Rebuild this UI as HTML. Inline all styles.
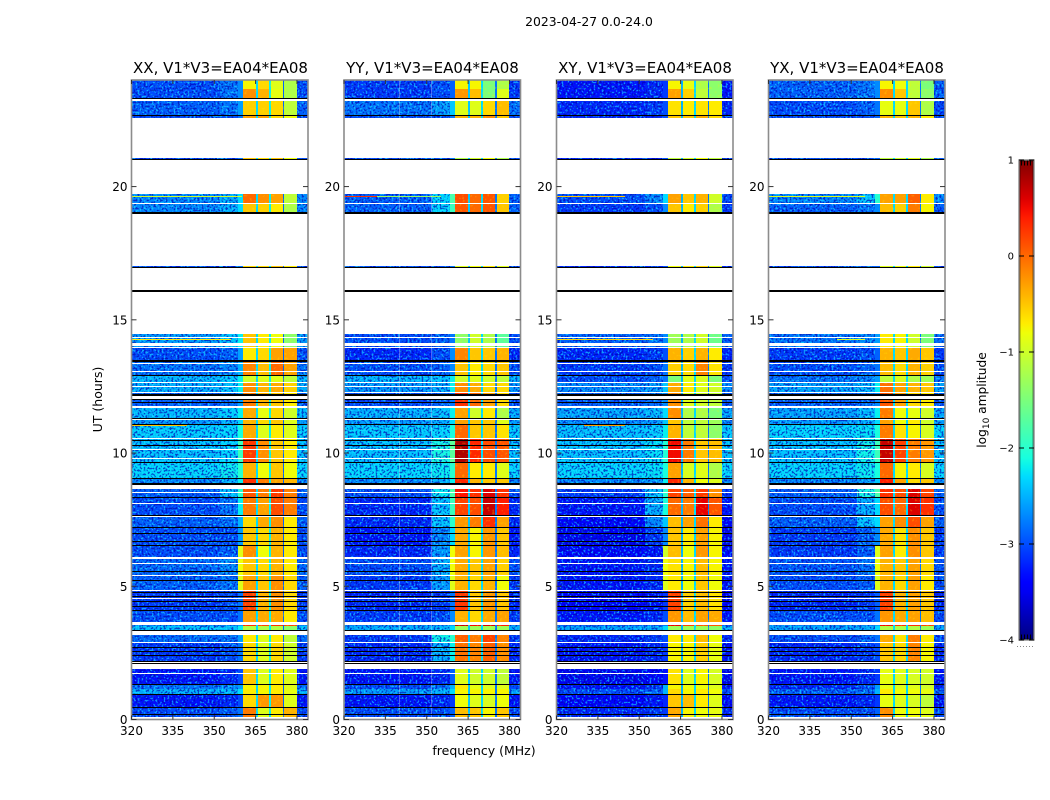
<!DOCTYPE html>
<html>
<head>
<meta charset="utf-8">
<title>2023-04-27 0.0-24.0</title>
<style>
html,body{margin:0;padding:0;background:#fff;}
svg{display:block;}
text{font-family:"DejaVu Sans","Liberation Sans",sans-serif;fill:#000;}
</style>
</head>
<body>
<svg id="chart" xmlns="http://www.w3.org/2000/svg" width="1050" height="800" viewBox="0 0 1050 800">
  <defs>
    <filter id="speck-light" x="0" y="0" width="1" height="1" color-interpolation-filters="sRGB">
      <feTurbulence type="fractalNoise" baseFrequency=".5" numOctaves="1" seed="3"/>
      <feColorMatrix values="0 0 0 0 0.1  0 0 0 0 0.9  0 0 0 0 1  8 0 0 0 -4.2"/>
    </filter>
    <filter id="speck-dark" x="0" y="0" width="1" height="1" color-interpolation-filters="sRGB">
      <feTurbulence type="fractalNoise" baseFrequency=".5" numOctaves="1" seed="11"/>
      <feColorMatrix values="0 0 0 0 0  0 0 0 0 0  0 0 0 0 0.7  0 8 0 0 -4.0"/>
    </filter>
    <filter id="speck-warm" x="0" y="0" width="1" height="1" color-interpolation-filters="sRGB">
      <feTurbulence type="fractalNoise" baseFrequency=".4" numOctaves="1" seed="7"/>
      <feColorMatrix values="0 0 0 0 1  0 0 0 0 0.95  0 0 0 0 0  10 0 0 0 -6"/>
    </filter>
    <linearGradient id="jet-gradient" x1="0" y1="1" x2="0" y2="0"></linearGradient>
  </defs>
  <rect width="1050" height="800" fill="#fff"/>
  <text x="589" y="26" font-size="12.4" text-anchor="middle">2023-04-27 0.0-24.0</text>
  <text x="220.5" y="73" font-size="15" text-anchor="middle">XX, V1*V3=EA04*EA08</text>
  <text x="432.5" y="73" font-size="15" text-anchor="middle">YY, V1*V3=EA04*EA08</text>
  <text x="645" y="73" font-size="15" text-anchor="middle">XY, V1*V3=EA04*EA08</text>
  <text x="857" y="73" font-size="15" text-anchor="middle">YX, V1*V3=EA04*EA08</text>
  <text x="484" y="755" font-size="12.5" text-anchor="middle">frequency (MHz)</text>
  <text transform="translate(102,399.5) rotate(-90)" font-size="12.5" text-anchor="middle">UT (hours)</text>
  <text transform="translate(986,400) rotate(-90)" font-size="12.2" text-anchor="middle">log<tspan font-size="9" dy="3">10</tspan><tspan dy="-3"> amplitude</tspan></text>
  <g id="panels"></g>
  <g id="colorbar"></g>
</svg>
<script>
// ---- chart data (log10 amplitude, UT hours, MHz) ----
const panelNames = ['xx', 'yy', 'xy', 'yx'];
const xTicks = [320, 335, 350, 365, 380];
const yTicks = [0, 5, 10, 15, 20];
const cbTicks = [-4, -3, -2, -1, 0, 1];
const cbTickLabels = ['\u22124', '\u22123', '\u22122', '\u22121', '0', '1'];
// frequency bins: background, approach, shoulder, block, gap, block, gap, block, gap, block, background
const freqEdges = [320, 352, 358.6, 360.4, 365.1, 365.7, 369.8, 370.5, 374.9, 375.4, 379.9, 384];
const rowStart = [23.68,23.27,22.68,22.57,21.03,19.37,19.04,16.96,13.99,13.45,12.89,12.676,12.238,11.738,11.325,11.088,10.55,9.674,9.062,8.861,8.349,7.661,7.21,6.548,6.085,5.422,4.859,4.108,3.646,3.495,3.333,2.908,2.17,1.319,1.131,0.956,0.481,0.105];
const rowEnd = [24,23.68,23.22,22.68,21.07,19.72,19.37,17.02,14.465,13.99,13.45,12.89,12.676,12.238,11.738,11.325,11.088,10.55,9.674,9.062,8.649,8.349,7.661,7.21,6.548,6.085,5.422,4.859,4.108,3.56,3.495,3.17,2.908,1.895,1.319,1.131,0.956,0.481];
// each row: background, approach 352-358.6, shoulder 358.6-360.4, block1..block4
const levelsXX = [
[-3.0,-2.8,-2.7,-.75,-.6,-.9,-1.2],[-3.0,-2.8,-2.7,-.2,-.4,-.85,-1.2],[-2.9,-2.8,-2.6,-.55,-.55,-.6,-1.1],[-3,-3,-2.8,-.3,-.3,-.6,-.8],
[-3,-3,-2.8,-.5,-.6,-.5,-.8],[-2.7,-2.5,-2.3,0,-.2,-.3,-1.1],[-2.7,-2.5,-2.3,-.5,-.55,-.7,-1.2],[-3,-3,-2.8,-.6,-.6,-.5,-.7],
[-2.6,-2.4,-2.2,-.5,-.7,-.8,-1.4],[-3,-2.9,-2.6,-.7,-.6,-.3,-.3],[-2.8,-2.7,-2.5,-.15,-.45,0,-.3],[-2.45,-2.35,-2.2,-1,-.9,-.9,-1.1],
[-2.5,-2.4,-2.2,-.2,-.4,-.35,-.55],[-2.9,-2.8,-2.6,-.1,-.4,-.5,-.7],[-2.45,-2.35,-2.2,-.35,-.85,-.6,-1],[-2.6,-2.5,-2.3,-.4,-.6,-.5,-.9],
[-2.35,-2.3,-2.1,-.35,-.9,-.7,-.9],[-2.4,-2.3,-1.9,.25,-.2,-.5,-.7],[-2.3,-2.2,-2,-.4,-.8,-.5,-.8],[-2.7,-2.5,-2.2,.3,-.1,-.3,-.4],
[-2.9,-2.4,-2,.1,-.1,.25,-.1],[-3,-2.8,-2.2,-.1,-.3,.15,-.1],[-2.9,-2.8,-2.5,-.6,-.35,-.2,-.7],[-3.0,-3,-2.6,-.5,-.6,-.4,-.7],
[-3.0,-2.9,-.9,-.2,-.8,-.4,-.7],[-2.85,-2.7,-.8,-.5,-.6,-.4,-.7],[-2.9,-2.8,-.9,-.3,-.5,-.2,-.6],[-3.1,-3,-2.8,.2,-.4,-.2,-.6],
[-3,-3,-2.8,-.3,-.35,-.35,-.7],[-2.7,-2.7,-2.6,.3,.2,.3,.2],[-2.4,-2.4,-2.2,-1.2,-1.2,-1.2,-1.4],[-2.85,-2.8,-2.6,-.7,-.9,-.7,-1.1],
[-3.1,-3,-2.8,-.6,-.9,-.6,-1],[-3.3,-3.2,-3,-.5,-.9,-.7,-.9],[-2.8,-2.7,-2.6,-.75,-.75,-.7,-.9],[-2.5,-2.45,-2.3,-.7,-.75,-.7,-.85],
[-3.3,-3.2,-3.0,-.6,-.25,-.25,-.9],[-3,-2.9,-2.8,-.1,-.9,-.7,-.4]];
const levelsYY = [
[-3.1,-3,-2.9,-.75,-.75,-1.5,-1.2],[-3.1,-3,-2.9,-.25,-.45,-1.5,-.9],[-2.8,-2.6,-2.4,-.9,-.9,-.6,-.45],[-3,-3,-2.8,-.4,-.4,-.2,-.5],
[-3,-3,-2.8,-1.2,-1,-.8,-1.2],[-2.9,-2.3,-1.8,.15,0,.1,-.55],[-2.9,-2.3,-1.9,.1,0,.1,-.5],[-3,-3,-2.8,-.9,-.8,-.7,-.9],
[-3,-2.9,-2.8,-1.4,-1.0,-1.2,-1.7],[-3.2,-3,-2.7,-.15,-.5,-.5,-.4],[-3,-2.9,-2.7,-.5,-.7,-.6,-.5],[-2.45,-2.4,-2.2,-1,-.9,-1,-1.1],
[-2.6,-2.5,-2.2,-.2,-.35,-.6,-.6],[-3,-2.9,-2.8,.3,0,-.3,-.6],[-2.5,-2.4,-2.2,-.3,-1.0,-.7,-1.2],[-2.6,-2.5,-2.3,-.3,-.5,-.5,-.9],
[-2.35,-2.3,-2.1,0,-.5,-.5,-.65],[-2.4,-2.1,-1.7,.8,.35,.15,.1],[-2.3,-2.2,-2,0,-.7,-.7,-.9],[-2.7,-2.5,-2.2,.35,-.4,-.5,-.5],
[-3,-2.2,-1.8,.45,.3,.6,.3],[-3.2,-2.4,-1.9,.2,.15,.7,.4],[-3.2,-2.4,-2,-.25,-.1,.3,-.3],[-3.3,-2.7,-2.3,-.35,-.75,-.25,-.5],
[-3.2,-2.6,-.8,-.3,-.75,-.25,-.45],[-3,-2.5,-.8,-.35,-.5,-.3,-.55],[-3.1,-2.6,-.9,-.4,-.6,-.4,-.8],[-3.2,-3.1,-2.8,.25,-.5,-.25,-.5],
[-3.1,-3,-2.7,-.4,-.6,-.35,-.3],[-2.7,-2.7,-2.6,.7,.5,.6,.4],[-2.5,-2.45,-2.3,-1.3,-1.3,-1.3,-1.3],[-3.1,-2.15,-2,.05,-.1,.2,-.15],
[-3.2,-2.5,-2.2,-.05,-.15,.05,-.2],[-3.3,-3.2,-2.9,-.9,-1,-1.0,-1.1],[-3,-2.8,-2.5,-.7,-.85,-.9,-.9],[-2.6,-2.5,-2.3,-.75,-.75,-.75,-.75],
[-3.3,-3.2,-3.1,-.8,-.9,-.95,-.8],[-3,-3,-2.9,-.45,-.5,-.75,-.5]];
const levelsXY = [
[-3.3,-3.2,-3.1,-.75,-.85,-1.2,-1.4],[-3.3,-3.2,-3.1,-.3,-.55,-1.1,-1.4],[-3.2,-3.1,-3,-.65,-.7,-.65,-.7],[-3.2,-3.2,-3,-.5,-.5,-.35,-.6],
[-3.2,-3.2,-3,-1.1,-1,-.8,-1.1],[-3.0,-2.7,-2.3,-.3,-.5,-.4,-1.0],[-3.1,-3,-2.7,-.5,-.7,-.55,-1.2],[-3.2,-3.2,-3,-.8,-.7,-.6,-.9],
[-2.9,-2.8,-2.7,-1.3,-1.2,-1,-1.6],[-3.2,-3.1,-3,-.4,-.55,-.4,-.7],[-3.1,-3,-2.8,-.55,-.6,-.15,-.65],[-3,-2.9,-2.8,-1.5,-.9,-.95,-1.5],
[-2.7,-2.6,-2.4,-.35,-.7,-.9,-1],[-2.9,-2.8,-2.7,-.2,-.9,-1,-1.1],[-2.55,-2.45,-2.3,-.2,-1.2,-1.2,-1.5],[-2.7,-2.6,-2.4,-.5,-1.1,-1.1,-1.3],
[-2.4,-2.35,-2.2,-.4,-1.1,-1.1,-1.4],[-2.4,-2.25,-2.05,.5,-.1,-.5,-.45],[-2.3,-2.25,-2.1,-.3,-.95,-.9,-1.2],[-2.7,-2.6,-2.2,.35,-.4,-.8,-.9],
[-3.1,-2.4,-2,.2,.05,.25,-.2],[-3.3,-2.5,-2.1,0,-.1,.55,.1],[-3.4,-2.7,-2.4,-.45,-.3,-.05,-.7],[-3.5,-3.1,-2.7,-.5,-.7,-.3,-.75],
[-3.4,-3.3,-1.0,-.45,-.8,-.25,-.75],[-3.3,-3.2,-.8,-.65,-.75,-.45,-.75],[-3.3,-3.2,-.9,-.7,-.8,-.5,-.8],[-3.4,-3.3,-3.1,.2,-.55,-.45,-.65],
[-3.3,-3.2,-3,-.25,-.45,-.3,-.35],[-2.9,-2.9,-2.8,.55,.2,.1,.1],[-2.55,-2.5,-2.3,-1.3,-1.3,-1.3,-1.4],[-3.2,-3.1,-3,-.7,-.7,-.45,-.8],
[-3.3,-3.2,-3.1,-.75,-.75,-.55,-.85],[-3.5,-3.4,-3.3,-.65,-.9,-.75,-.95],[-3.3,-3.1,-2.5,-.75,-.8,-.8,-.9],[-3,-2.9,-2.5,-.6,-.75,-.7,-.8],
[-3.4,-3.3,-3.2,-.5,-.45,-.7,-.9],[-3.2,-3.1,-3.1,-.35,-.75,-.8,-.85]];
const levelsYX = [
[-2.9,-2.8,-2.7,-.75,-.8,-1.1,-1.5],[-2.9,-2.8,-2.7,-.2,-.5,-1.1,-1.4],[-3,-2.9,-2.8,-.85,-.85,-.5,-1.2],[-3,-3,-2.9,-.4,-.5,-.4,-.7],
[-3,-3,-2.9,-1.1,-1,-.9,-1.2],[-2.7,-2.4,-2.0,-.3,-.3,.05,-.7],[-2.9,-2.8,-2.7,-.45,-.55,-.1,-.75],[-3,-3,-2.9,-.9,-.8,-.7,-1],
[-2.8,-2.7,-2.6,-.7,-.75,-1,-1.5],[-3.1,-3,-2.9,-.4,-.5,-.35,-.5],[-3,-2.9,-2.8,-.45,-.6,-.4,-.55],[-2.8,-2.7,-2.6,-1.1,-.95,-1.2,-1.3],
[-2.55,-2.45,-2.2,-.05,-.3,-.4,-.5],[-2.9,-2.8,-2.7,.1,-.3,-.6,-.7],[-2.55,-2.45,-2.2,-.1,-.8,-.85,-1],[-2.6,-2.5,-2.3,-.3,-.8,-.7,-1],
[-2.3,-2.25,-2.1,-.1,-.65,-.75,-.95],[-2.4,-2.15,-1.9,.7,.2,-.1,-.25],[-2.3,-2.2,-2.1,0,-.75,-.7,-.95],[-2.7,-2.6,-2.4,.4,-.3,-.6,-.5],
[-2.9,-2.1,-1.8,.3,.15,.6,.2],[-3,-2.5,-2.3,.15,0,.6,.3],[-2.9,-2.4,-2.3,-.3,-.2,.15,-.3],[-3.1,-2.9,-2.7,-.35,-.65,-.2,-.5],
[-3.1,-2.9,-.9,-.3,-.7,-.2,-.5],[-2.95,-2.8,-.8,-.4,-.5,-.3,-.6],[-3,-2.9,-.9,-.4,-.6,-.3,-.7],[-3.2,-3.1,-2.9,.2,-.4,-.3,-.5],
[-3,-3,-2.8,-.25,-.35,-.3,-.45],[-2.7,-2.7,-2.6,.5,.3,.3,.2],[-2.55,-2.5,-2.3,-1.2,-1.2,-1.2,-1.3],[-3,-2.9,-2.8,-.35,-.65,-.1,-.7],
[-3.2,-3.1,-3,-.5,-.6,-.15,-.75],[-3.3,-3.2,-3.1,-.85,-.9,-.95,-1.0],[-3.2,-3,-2.6,-.85,-.9,-.9,-1.0],[-2.9,-2.8,-2.5,-.7,-.8,-.8,-.85],
[-3.3,-3.2,-3.1,-.85,-.9,-.95,-1.1],[-3,-3,-2.9,-.2,-.8,-.8,-.9]];
// level of the three narrow gaps between blocks, one triple per polarisation
const gapLevelsXX = [-2.3, -2.2, -2.9];
const gapLevelsYY = [-2.4, -2.3, -2.8];
const gapLevelsXY = [-2.5, -2.3, -2.8];
const gapLevelsYX = [-2.3, -2.3, -2.8];
// flagged (no data) intervals in hours
const flaggedStart = [23.22,21.07,19.72,19.33,17.02,14.465,14.315,14.027,13.927,13.327,13.04,12.639,12.476,12.251,12.038,11.688,11.225,10.512,10.1,9.787,8.649,8.499,8.098,7.6,6.035,5.847,5.384,4.809,4.533,3.559,3.17,2.87,1.895,1.707,0];
const flaggedEnd = [23.27,22.57,21.0,19.37,18.97,16.96,14.352,14.115,13.99,13.364,13.064,12.676,12.514,12.289,12.126,11.751,11.263,10.55,10.137,9.824,8.79,8.536,8.136,7.62,6.085,5.885,5.422,4.859,4.571,3.646,3.333,2.908,2.17,1.744,0.105];
// zero-amplitude integrations (drawn black) in hours
const zeroStart = [23.27,22.64,21.0,18.97,16.96,16.04,13.427,12.889,12.151,12.001,11.888,11.288,11.05,10.45,10.287,9.612,9.024,8.786,8.324,7.623,7.173,6.948,6.66,6.51,5.534,5.196,4.759,4.596,4.421,4.209,4.071,3.32,2.67,2.545,2.395,2.182,2.09,1.294,0.931,0.444,0.181];
const zeroEnd = [23.32,22.68,21.03,19.04,17.0,16.12,13.477,12.926,12.201,12.026,11.926,11.325,11.088,10.487,10.312,9.674,9.062,8.861,8.349,7.661,7.21,6.985,6.685,6.548,5.559,5.234,4.784,4.634,4.459,4.246,4.108,3.358,2.707,2.57,2.42,2.207,2.11,1.319,0.956,0.481,0.206];
// narrow interference streaks: panel index, hour, start MHz, stop MHz, level
const streakPanel = [0,0,0,0,1,1,2,2,2,3,3];
const streakHour = [14.27,11.3,11.05,19.62,19.62,19.62,14.27,19.62,11.05,19.62,14.27];
const streakFrom = [320,320,320,320,320,332,320,320,330,320,345];
const streakTo = [356,345,340,360,332,355,355,345,345,355,355];
const streakLevel = [-.7,-.6,-.5,-1,.3,-1.3,-.6,-.5,-.3,-.9,-.9];
// steady interference channels visible in YY only
const steadyChannels = [339.9, 351.7];

// ---- scales ----
const NS = 'http://www.w3.org/2000/svg';
const panelLeft = [131.5, 344, 556.5, 768.5];
const panelWidth = 176.5;
const plotTop = 80, plotBottom = 719.5;
const cbLeft = 1019, cbRight = 1034, cbTop = 160, cbBottom = 640;
const allLevels = [levelsXX, levelsYY, levelsXY, levelsYX];
const allGaps = [gapLevelsXX, gapLevelsYY, gapLevelsXY, gapLevelsYX];
function xScale(p, f) { return panelLeft[p] + (f - 320) / 64 * panelWidth; }
function yScale(h) { return plotBottom - h / 24 * (plotBottom - plotTop); }
function cbScale(v) { return cbBottom - (v + 4) / 5 * (cbBottom - cbTop); }
function interp(t, xs, ys) {
  for (let i = 1; i < xs.length; i++) {
    if (t <= xs[i]) return ys[i - 1] + (ys[i] - ys[i - 1]) * (t - xs[i - 1]) / (xs[i] - xs[i - 1]);
  }
  return ys[ys.length - 1];
}
function jetColor(v) {
  const t = Math.max(0, Math.min(1, (v + 4) / 5));
  const r = interp(t, [0, .35, .66, .89, 1], [0, 0, 1, 1, .5]);
  const g = interp(t, [0, .125, .375, .64, .91, 1], [0, 0, 1, 1, 0, 0]);
  const b = interp(t, [0, .11, .34, .65, 1], [.5, 1, 1, 0, 0]);
  return 'rgb(' + Math.round(r * 255) + ',' + Math.round(g * 255) + ',' + Math.round(b * 255) + ')';
}
function svgEl(tag, parent, attrs) {
  const el = document.createElementNS(NS, tag);
  for (const k in attrs) el.setAttribute(k, attrs[k]);
  parent.appendChild(el);
  return el;
}
function band(parent, p, h0, h1, f0, f1, fill) {
  const x0 = Math.round(xScale(p, f0)), x1 = Math.round(xScale(p, f1));
  const y0 = Math.round(yScale(h1)), y1 = Math.round(yScale(h0));
  return svgEl('rect', parent, { x: x0, y: y0, width: Math.max(1, x1 - x0), height: Math.max(1, y1 - y0), fill: fill, 'shape-rendering': 'crispEdges' });
}

// ---- draw panels ----
const panelsRoot = document.getElementById('panels');
panelNames.forEach(function (name, p) {
  const g = svgEl('g', panelsRoot, {});
  
  

  const cells = svgEl('g', g, {});
  
  
  const levels = allLevels[p];
  const gaps = allGaps[p];
  rowStart.forEach(function (h0, r) {
    const row = levels[r];
    const binValues = [row[0], row[1], row[2], row[3], gaps[0], row[4], gaps[1], row[5], gaps[2], row[6], row[0]];
    binValues.forEach(function (v, b) {
      const cell = band(cells, p, h0, rowEnd[r], freqEdges[b], freqEdges[b + 1], jetColor(v));
      
      
    });
  });

  // measurement noise texture on top of the cells
  const noiseSpans = [[320, 358.6, 'speck-light', .6], [320, 358.6, 'speck-dark', .65], [379.9, 384, 'speck-light', .55], [379.9, 384, 'speck-dark', .65], [360.4, 379.9, 'speck-warm', .25]];
  noiseSpans.forEach(function (s) {
    const x0 = Math.round(xScale(p, s[0])), x1 = Math.round(xScale(p, s[1]));
    const noise = svgEl('rect', g, { x: x0, y: plotTop, width: x1 - x0, height: plotBottom - plotTop, fill: '#000', filter: 'url(#' + s[2] + ')', opacity: s[3] });
    
    
  });

  streakPanel.forEach(function (sp, i) {
    if (sp !== p) return;
    const st = band(g, p, streakHour[i] - .02, streakHour[i] + .02, streakFrom[i], streakTo[i], jetColor(streakLevel[i]));
    
    
  });

  if (p === 1) {
    steadyChannels.forEach(function (f) {
      const ch = svgEl('rect', g, { x: Math.round(xScale(p, f)), y: plotTop, width: 1, height: plotBottom - plotTop, fill: '#fff', opacity: .3, 'shape-rendering': 'crispEdges' });
      
      
    });
  }

  flaggedStart.forEach(function (h0, i) {
    const f = band(g, p, h0, flaggedEnd[i], 320, 384, '#fff');
    
    
  });
  zeroStart.forEach(function (h0, i) {
    const z = band(g, p, h0, zeroEnd[i], 320, 384, '#000');
    
    
  });

  // frame
  const frame = svgEl('rect', g, { x: panelLeft[p], y: plotTop, width: panelWidth, height: plotBottom - plotTop, fill: 'none', stroke: '#8c8c8c', 'stroke-width': 1.6 });
  
  

  // x ticks
  xTicks.forEach(function (f) {
    const x = xScale(p, f);
    const t1 = svgEl('line', g, { x1: x, x2: x, y1: plotBottom, y2: plotBottom - 4, stroke: '#333', 'stroke-width': 1 });
    
    
    const t2 = svgEl('line', g, { x1: x, x2: x, y1: plotTop, y2: plotTop + 4, stroke: '#333', 'stroke-width': 1 });
    
    
    const lab = svgEl('text', g, { x: x, y: 735, 'font-size': 12, 'text-anchor': 'middle' });
    
    
    lab.textContent = f;
  });
  // y ticks
  yTicks.forEach(function (h) {
    const y = yScale(h);
    const t1 = svgEl('line', g, { x1: panelLeft[p], x2: panelLeft[p] + 5, y1: y, y2: y, stroke: '#333', 'stroke-width': 1 });
    
    
    const t2 = svgEl('line', g, { x1: panelLeft[p] + panelWidth - 5, x2: panelLeft[p] + panelWidth, y1: y, y2: y, stroke: '#333', 'stroke-width': 1 });
    
    
    const lab = svgEl('text', g, { x: panelLeft[p] - 4, y: y + 4.5, 'font-size': 12, 'text-anchor': 'end' });
    
    
    lab.textContent = h;
  });
});

// ---- colorbar ----
const grad = document.getElementById('jet-gradient');
for (let i = 0; i <= 50; i++) {
  svgEl('stop', grad, { offset: (i * 2) + '%', 'stop-color': jetColor(-4 + i / 10) });
}
const cbRoot = document.getElementById('colorbar');
const cbBar = svgEl('rect', cbRoot, { x: cbLeft, y: cbTop, width: cbRight - cbLeft, height: cbBottom - cbTop, fill: 'url(#jet-gradient)', stroke: '#8c8c8c', 'stroke-width': 1.4 });


const cbInner = svgEl('rect', cbRoot, { x: cbLeft + 1, y: cbTop + 1, width: cbRight - cbLeft - 2, height: cbBottom - cbTop - 2, fill: 'none', stroke: '#000', 'stroke-width': .6, opacity: .7 });


cbTicks.forEach(function (v, i) {
  const y = cbScale(v);
  const t = svgEl('line', cbRoot, { x1: cbLeft, x2: cbRight, y1: y, y2: y, stroke: '#000', 'stroke-width': 1, 'stroke-dasharray': '5 5' });
  
  
  const lab = svgEl('text', cbRoot, { x: cbLeft - 5, y: y + 3.5, 'font-size': 10, 'text-anchor': 'end' });
  
  
  lab.textContent = cbTickLabels[i];
});
const hatchTop = svgEl('line', cbRoot, { x1: cbLeft + 2, x2: cbRight - 2, y1: cbTop + 3, y2: cbTop + 3, stroke: '#000', 'stroke-width': 5, 'stroke-dasharray': '1 2' });


const hatchBottom = svgEl('line', cbRoot, { x1: cbLeft + 2, x2: cbRight - 2, y1: cbBottom - 3, y2: cbBottom - 3, stroke: '#000', 'stroke-width': 5, 'stroke-dasharray': '1 2' });


const dots = svgEl('line', cbRoot, { x1: cbLeft - 2, x2: cbRight, y1: 646.5, y2: 646.5, stroke: '#888', 'stroke-width': 1, 'stroke-dasharray': '1 2' });


</script>
</body>
</html>
